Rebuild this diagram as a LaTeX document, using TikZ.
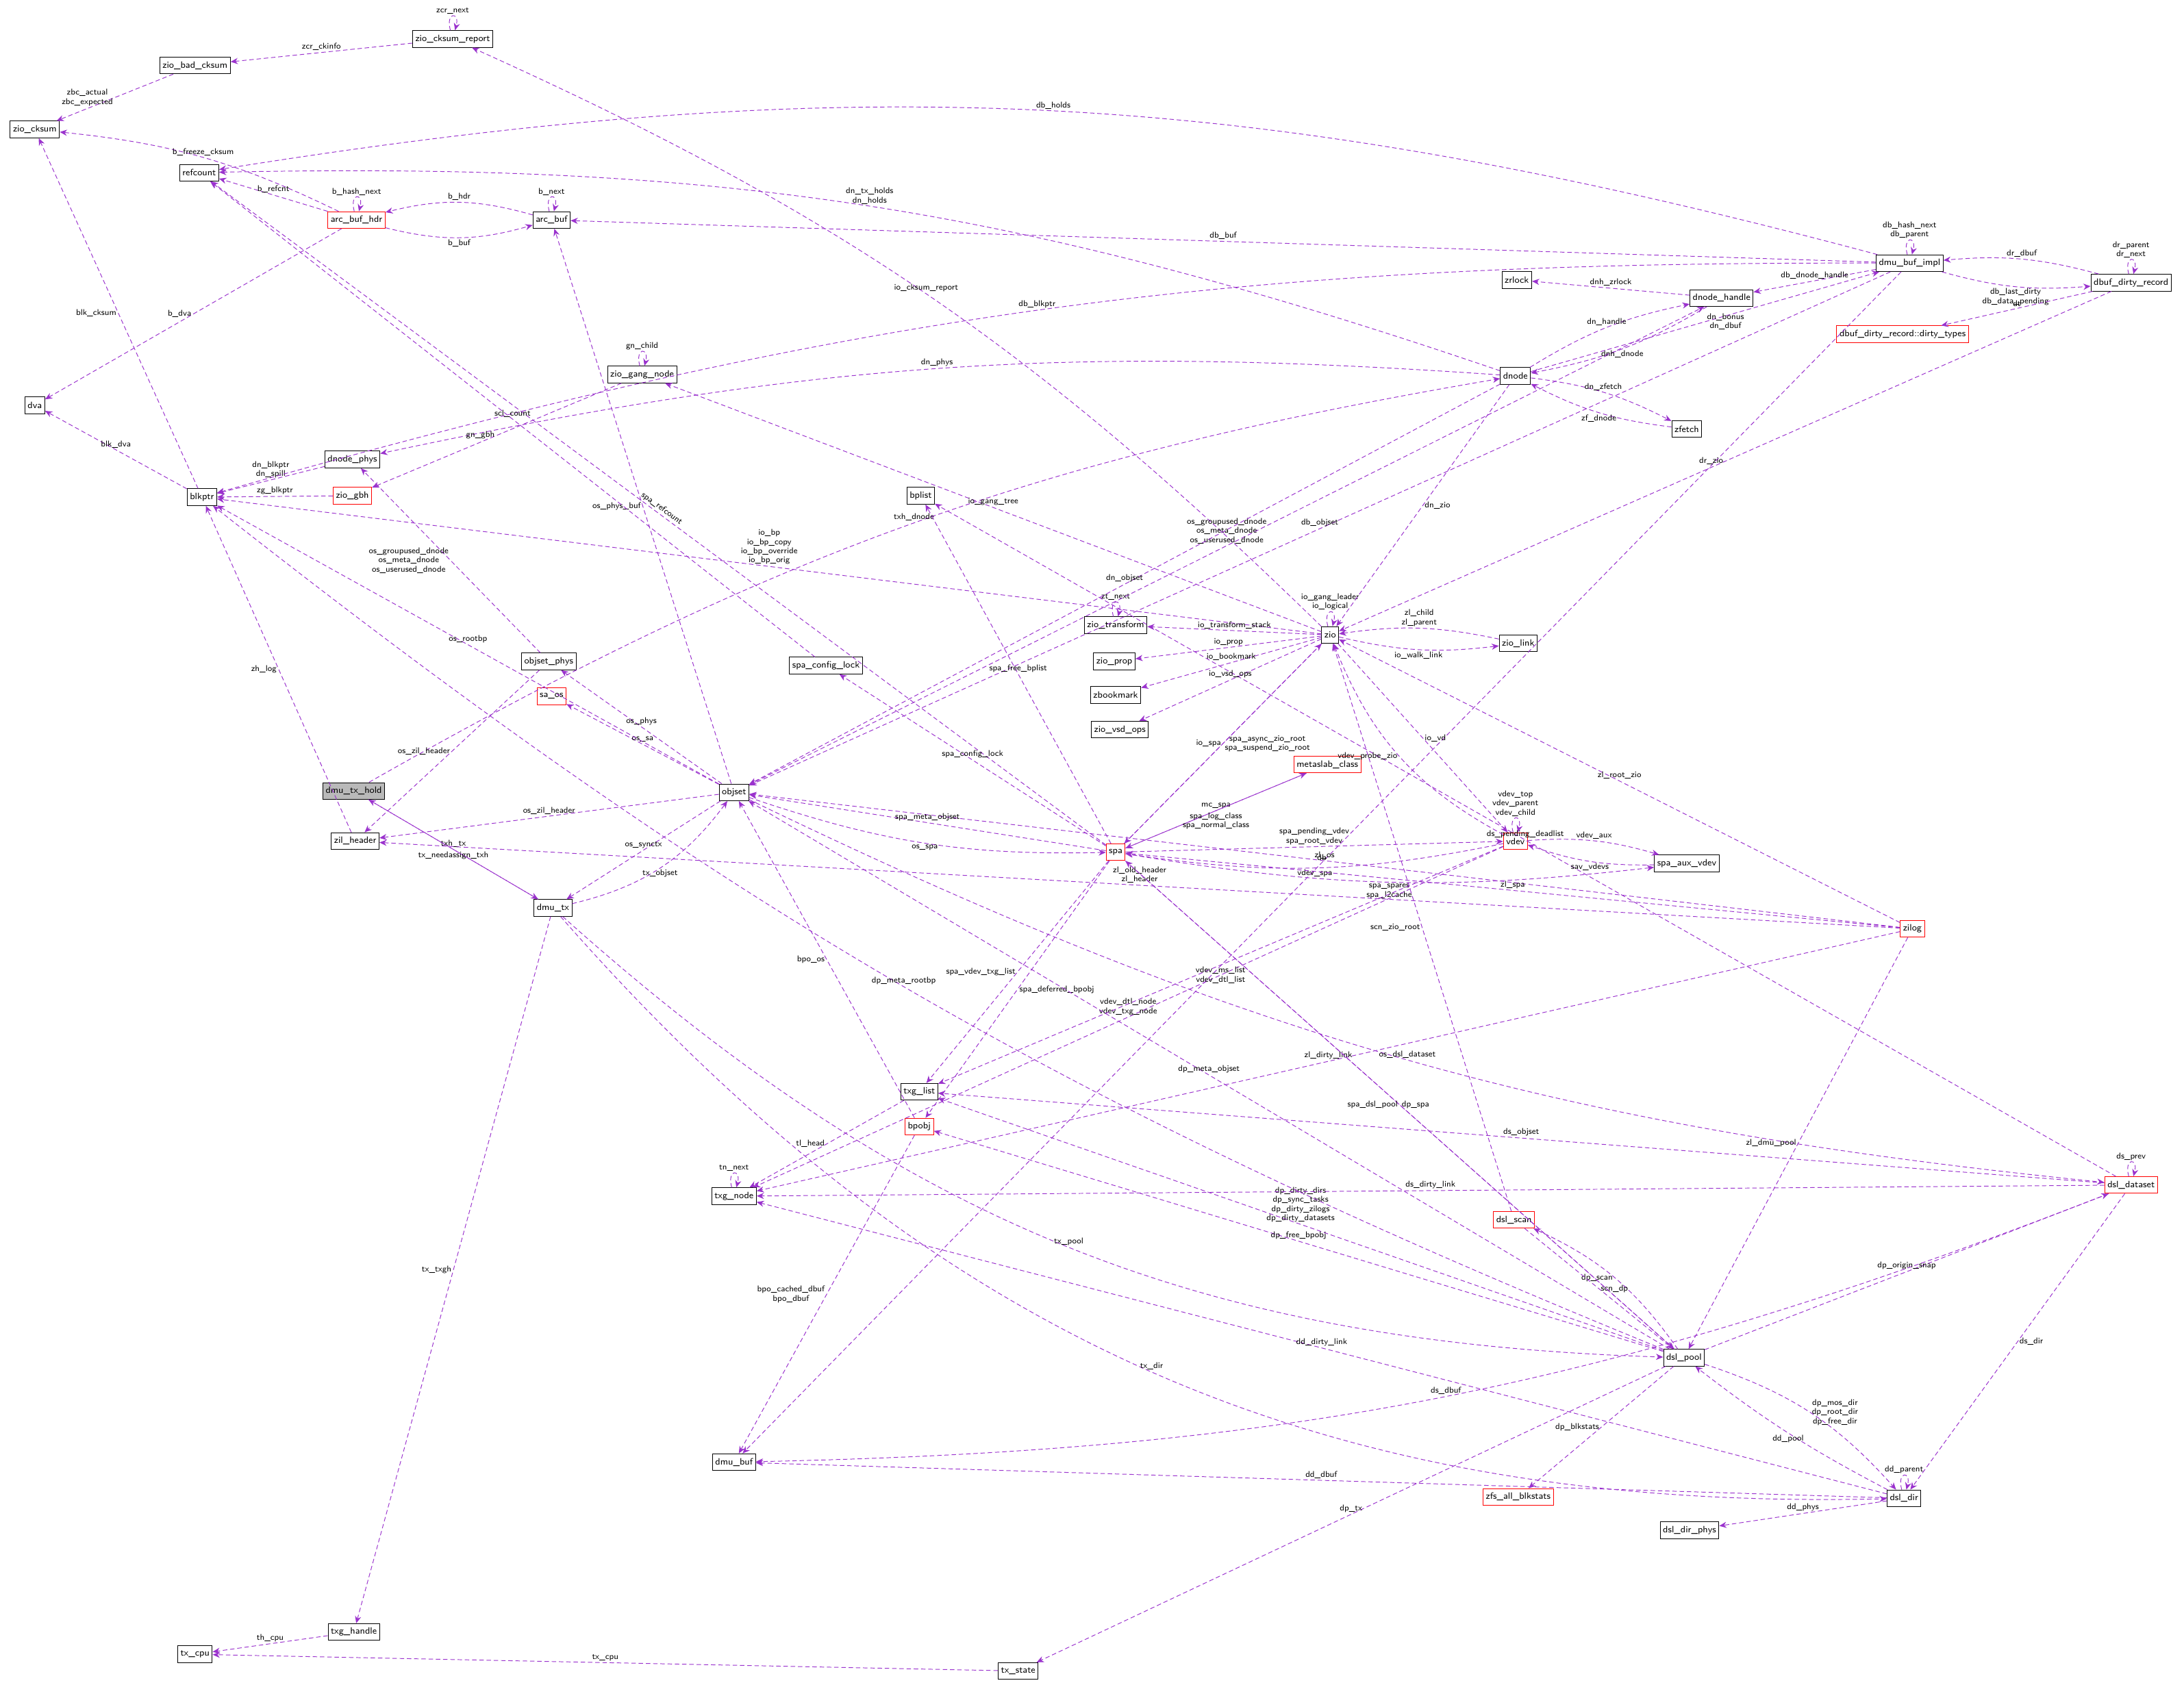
\documentclass[tikz,border=0pt]{standalone}
\usepackage{tikz}
\usetikzlibrary{arrows.meta}
\usetikzlibrary{positioning}
\definecolor{refpurple}{RGB}{154,50,205}
\begin{document}
\begin{tikzpicture}[x=0.25pt,y=-0.25pt,>={Stealth[length=1.3pt,width=1.1pt]},
    cls/.style={rectangle,draw,line width=0.12pt,inner sep=0.5pt,minimum height=3pt,font=\sffamily\fontsize{1.65}{1.8}\selectfont},
    red cls/.style={cls,draw=red},
    edge/.style={->,dash pattern=on 0.8pt off 0.5pt,color=refpurple,line width=0.12pt},
    lbl/.style={font=\sffamily\fontsize{1.5}{1.65}\selectfont,align=center,text=black,inner sep=0.3pt},
    every loop/.style={min distance=3.5pt,looseness=0.5}]
  \useasboundingbox (0,0) rectangle (1568,1210);

  \node[cls] (report) at (325,28) {zio\_cksum\_report};
  \node[cls] (badck) at (140,47) {zio\_bad\_cksum};
  \node[cls] (cksum) at (25,93) {zio\_cksum};
  \node[cls] (refcount) at (143,124) {refcount};
  \node[red cls] (hdr) at (256,158) {arc\_buf\_hdr};
  \node[cls] (arcbuf) at (396,158) {arc\_buf};
  \node[cls] (dva) at (25,291) {dva};
  \node[cls] (blkptr) at (145,357) {blkptr};
  \node[cls] (dnphys) at (253,330) {dnode\_phys};
  \node[red cls] (gbh) at (253,356) {zio\_gbh};
  \node[cls,fill=gray!55] (txhold) at (254,568) {dmu\_tx\_hold};
  \node[cls] (zilhdr) at (255,604) {zil\_header};
  \node[cls] (osphys) at (394,475) {objset\_phys};
  \node[red cls] (saos) at (396,500) {sa\_os};
  \node[cls] (objset) at (527,569) {objset};
  \node[cls] (tx) at (397,652) {dmu\_tx};
  \node[cls] (gang) at (461,269) {zio\_gang\_node};
  \node[cls] (scl) at (593,478) {spa\_config\_lock};
  \node[cls] (ztrans) at (801,449) {zio\_transform};
  \node[cls] (zprop) at (800,475) {zio\_prop};
  \node[cls] (zbm) at (801,499) {zbookmark};
  \node[cls] (vsd) at (804,524) {zio\_vsd\_ops};
  \node[cls] (zio) at (955,456) {zio};
  \node[cls] (zlink) at (1090,462) {zio\_link};
  \node[red cls] (mc) at (953,549) {metaslab\_class};
  \node[red cls] (spa) at (801,612) {spa};
  \node[red cls] (vdev) at (1088,604) {vdev};
  \node[cls] (aux) at (1211,620) {spa\_aux\_vdev};
  \node[red cls] (zilog) at (1373,667) {zilog};
  \node[cls] (bplist) at (661,356) {bplist};
  \node[cls] (txglist) at (660,784) {txg\_list};
  \node[red cls] (bpobj) at (660,809) {bpobj};
  \node[cls] (txgnode) at (527,859) {txg\_node};
  \node[cls] (dmubuf) at (527,1050) {dmu\_buf};
  \node[cls] (txgh) at (254,1172) {txg\_handle};
  \node[cls] (txcpu) at (140,1188) {tx\_cpu};
  \node[cls] (txstate) at (731,1200) {tx\_state};
  \node[cls] (pool) at (1209,975) {dsl\_pool};
  \node[red cls] (scan) at (1087,876) {dsl\_scan};
  \node[red cls] (ds) at (1530,851) {dsl\_dataset};
  \node[cls] (dir) at (1367,1076) {dsl\_dir};
  \node[red cls] (blkstats) at (1090,1075) {zfs\_all\_blkstats};
  \node[cls] (dirphys) at (1213,1099) {dsl\_dir\_phys};
  \node[cls] (dnode) at (1088,270) {dnode};
  \node[cls] (dnh) at (1236,214) {dnode\_handle};
  \node[cls] (zrlock) at (1089,201) {zrlock};
  \node[cls] (zfetch) at (1211,308) {zfetch};
  \node[cls] (dbi) at (1371,189) {dmu\_buf\_impl};
  \node[cls] (ddr) at (1530,203) {dbuf\_dirty\_record};
  \node[red cls] (dtypes) at (1366,240) {dbuf\_dirty\_record::dirty\_types};

  % self references
  \draw[edge] (report) to[loop above] node[lbl,above] {zcr\_next} (report);
  \draw[edge] (hdr) to[loop above] node[lbl,above] {b\_hash\_next} (hdr);
  \draw[edge] (arcbuf) to[loop above] node[lbl,above] {b\_next} (arcbuf);
  \draw[edge] (gang) to[loop above] node[lbl,above] {gn\_child} (gang);
  \draw[edge] (ztrans) to[loop above] node[lbl,above] {zt\_next} (ztrans);
  \draw[edge] (zio) to[loop above] node[lbl,above] {io\_gang\_leader\\io\_logical} (zio);
  \draw[edge] (vdev) to[loop above] node[lbl,above] {vdev\_top\\vdev\_parent\\vdev\_child} (vdev);
  \draw[edge] (txgnode) to[loop above] node[lbl,above] {tn\_next} (txgnode);
  \draw[edge] (ds) to[loop above] node[lbl,above] {ds\_prev} (ds);
  \draw[edge] (dir) to[loop above] node[lbl,above] {dd\_parent} (dir);
  \draw[edge] (dbi) to[loop above] node[lbl,above] {db\_hash\_next\\db\_parent} (dbi);
  \draw[edge] (ddr) to[loop above] node[lbl,above] {dr\_parent\\dr\_next} (ddr);

  % references
  \draw[edge] (report) -- node[lbl,above] {zcr\_ckinfo} (badck);
  \draw[edge] (badck) -- node[lbl,left] {zbc\_actual\\zbc\_expected} (cksum);
  \draw[edge] (hdr) to[bend right=10] node[lbl,above] {b\_freeze\_cksum} (cksum);
  \draw[edge] (hdr) -- node[lbl,above] {b\_refcnt} (refcount);
  \draw[edge] (hdr) to[bend right=15] node[lbl,below] {b\_buf} (arcbuf);
  \draw[edge] (arcbuf) to[bend right=15] node[lbl,above] {b\_hdr} (hdr);
  \draw[edge] (blkptr) -- node[lbl,left] {blk\_cksum} (cksum);
  \draw[edge] (blkptr) -- node[lbl,above] {blk\_dva} (dva);
  \draw[edge] (hdr) -- node[lbl,left] {b\_dva} (dva);
  \draw[edge] (dnphys) -- node[lbl,above] {dn\_blkptr\\dn\_spill} (blkptr);
  \draw[edge] (gbh) -- node[lbl,above] {zg\_blkptr} (blkptr);
  \draw[edge] (zio) to[bend right=10] node[lbl,above] {io\_cksum\_report} (report);
  \draw[edge] (dbi) to[bend right=12] node[lbl,above] {db\_holds} (refcount);
  \draw[edge] (dnode) to[bend right=10] node[lbl,above] {dn\_tx\_holds\\dn\_holds} (refcount);
  \draw[edge] (dbi) to[bend right=8] node[lbl,above] {db\_blkptr} (blkptr);
  \draw[edge] (dbi) -- node[lbl,above] {db\_buf} (arcbuf);
  \draw[edge] (dnode) to[bend right=8] node[lbl,above] {dn\_phys} (dnphys);
  \draw[edge] (dbi) -- node[lbl,above] {db\_objset} (objset);
  \draw[edge] (txhold) to[bend left=10] node[lbl,above] {txh\_dnode} (dnode);
  \draw[edge] (spa) -- node[lbl,above,sloped] {spa\_refcount} (refcount);
  \draw[edge] (objset) -- node[lbl,above] {os\_groupused\_dnode\\os\_meta\_dnode\\os\_userused\_dnode} (dnh);
  \draw[edge] (osphys) -- node[lbl,left] {os\_groupused\_dnode\\os\_meta\_dnode\\os\_userused\_dnode} (dnphys);
  \draw[edge] (gang) -- node[lbl,left] {gn\_gbh} (gbh);
  \draw[edge] (zio) -- node[lbl,above] {io\_gang\_tree} (gang);
  \draw[edge] (dnode) -- node[lbl,above] {dn\_objset} (objset);
  \draw[edge] (objset) -- node[lbl,left] {os\_phys\_buf} (arcbuf);
  \draw[edge] (scl) -- node[lbl,above] {scl\_count} (refcount);
  \draw[edge] (zio) -- node[lbl,above] {io\_bp\\io\_bp\_copy\\io\_bp\_override\\io\_bp\_orig} (blkptr);
  \draw[edge] (dbi) -- node[lbl,above] {db} (dmubuf);
  \draw[edge] (dnode) -- node[lbl,right] {dn\_zio} (zio);
  \draw[edge] (ddr) -- node[lbl,left] {dr\_zio} (zio);
  \draw[edge] (ds) -- node[lbl,above] {ds\_pending\_deadlist} (bplist);
  \draw[edge] (spa) -- node[lbl,above] {spa\_free\_bplist} (bplist);
  \draw[edge] (zilog) -- node[lbl,above] {zl\_os} (objset);
  \draw[edge] (zilog) -- node[lbl,above] {zl\_root\_zio} (zio);
  \draw[edge] (zio) -- node[lbl,above] {io\_transform\_stack} (ztrans);
  \draw[edge] (zio) -- node[lbl,above] {io\_prop} (zprop);
  \draw[edge] (zio) -- node[lbl,above] {io\_bookmark} (zbm);
  \draw[edge] (zio) -- node[lbl,above] {io\_vsd\_ops} (vsd);
  \draw[edge] (zlink) to[bend right=10] node[lbl,above] {zl\_child\\zl\_parent} (zio);
  \draw[edge] (zio) to[bend right=10] node[lbl,below] {io\_walk\_link} (zlink);
  \draw[edge] (objset) -- node[lbl,above] {os\_phys} (osphys);
  \draw[edge] (objset) -- node[lbl,above] {os\_sa} (saos);
  \draw[edge] (objset) -- node[lbl,above] {os\_rootbp} (blkptr);
  \draw[edge] (zilhdr) -- node[lbl,left] {zh\_log} (blkptr);
  \draw[edge] (osphys) -- node[lbl,left] {os\_zil\_header} (zilhdr);
  \draw[edge] (objset) -- node[lbl,above] {os\_zil\_header} (zilhdr);
  \draw[edge] (txhold) -- node[lbl,above] {txh\_tx} (tx);
  \draw[edge] (tx) -- node[lbl,below] {tx\_needassign\_txh} (txhold);
  \draw[edge] (tx) to[bend right=20] node[lbl,below] {tx\_objset} (objset);
  \draw[edge] (objset) -- node[lbl,above] {os\_synctx} (tx);
  \draw[edge] (spa) -- node[lbl,above] {spa\_meta\_objset} (objset);
  \draw[edge] (objset) to[bend right=10] node[lbl,below] {os\_spa} (spa);
  \draw[edge] (spa) -- node[lbl,above] {spa\_config\_lock} (scl);
  \draw[edge] (zio) -- node[lbl,left] {io\_spa} (spa);
  \draw[edge] (spa) -- node[lbl,right] {spa\_async\_zio\_root\\spa\_suspend\_zio\_root} (zio);
  \draw[edge] (mc) -- node[lbl,above] {mc\_spa} (spa);
  \draw[edge] (spa) -- node[lbl,below] {spa\_log\_class\\spa\_normal\_class} (mc);
  \draw[edge] (spa) -- node[lbl,above] {spa\_pending\_vdev\\spa\_root\_vdev} (vdev);
  \draw[edge] (vdev) to[bend left=10] node[lbl,below] {vdev\_spa} (spa);
  \draw[edge] (zio) -- node[lbl,right] {io\_vd} (vdev);
  \draw[edge] (vdev) to[bend left=20] node[lbl,left] {vdev\_probe\_zio} (zio);
  \draw[edge] (vdev) to[bend left=10] node[lbl,above] {vdev\_aux} (aux);
  \draw[edge] (aux) to[bend left=10] node[lbl,below] {sav\_vdevs} (vdev);
  \draw[edge] (spa) to[bend right=8] node[lbl,below] {spa\_spares\\spa\_l2cache} (aux);
  \draw[edge] (zilog) -- node[lbl,above] {zl\_spa} (spa);
  \draw[edge] (spa) -- node[lbl,left] {spa\_vdev\_txg\_list} (txglist);
  \draw[edge] (spa) -- node[lbl,right] {spa\_deferred\_bpobj} (bpobj);
  \draw[edge] (vdev) -- node[lbl,above] {vdev\_dtl\_node\\vdev\_txg\_node} (txgnode);
  \draw[edge] (vdev) -- node[lbl,below] {vdev\_ms\_list\\vdev\_dtl\_list} (txglist);
  \draw[edge] (objset) to[bend right=10] node[lbl,above] {os\_dsl\_dataset} (ds);
  \draw[edge] (ds) -- node[lbl,above] {ds\_objset} (txglist);
  \draw[edge] (bpobj) -- node[lbl,left] {bpo\_os} (objset);
  \draw[edge] (txglist) -- node[lbl,left] {tl\_head} (txgnode);
  \draw[edge] (bpobj) -- node[lbl,left] {bpo\_cached\_dbuf\\bpo\_dbuf} (dmubuf);
  \draw[edge] (zilog) -- node[lbl,above] {zl\_dirty\_link} (txgnode);
  \draw[edge] (zilog) -- node[lbl,above] {zl\_old\_header\\zl\_header} (zilhdr);
  \draw[edge] (zilog) -- node[lbl,left] {zl\_dmu\_pool} (pool);
  \draw[edge] (scan) -- node[lbl,left] {scn\_zio\_root} (zio);
  \draw[edge] (pool) -- node[lbl,right] {dp\_spa} (spa);
  \draw[edge] (pool) to[bend right=15] node[lbl,left] {dp\_scan} (scan);
  \draw[edge] (scan) -- node[lbl,right] {scn\_dp} (pool);
  \draw[edge] (pool) -- node[lbl,above] {dp\_dirty\_dirs\\dp\_sync\_tasks\\dp\_dirty\_zilogs\\dp\_dirty\_datasets} (txglist);
  \draw[edge] (spa) -- node[lbl,left] {spa\_dsl\_pool} (pool);
  \draw[edge] (ds) -- node[lbl,above] {ds\_dirty\_link} (txgnode);
  \draw[edge] (pool) -- node[lbl,above] {dp\_free\_bpobj} (bpobj);
  \draw[edge] (pool) -- node[lbl,above] {dp\_meta\_objset} (objset);
  \draw[edge] (pool) -- node[lbl,above] {dp\_origin\_snap} (ds);
  \draw[edge] (ds) -- node[lbl,right] {ds\_dir} (dir);
  \draw[edge] (pool) to[bend left=15] node[lbl,right] {dp\_mos\_dir\\dp\_root\_dir\\dp\_free\_dir} (dir);
  \draw[edge] (dir) to[bend left=5] node[lbl,below] {dd\_pool} (pool);
  \draw[edge] (dir) -- node[lbl,above] {dd\_dirty\_link} (txgnode);
  \draw[edge] (dir) -- node[lbl,above] {dd\_dbuf} (dmubuf);
  \draw[edge] (ds) to[bend left=10] node[lbl,above] {ds\_dbuf} (dmubuf);
  \draw[edge] (pool) -- node[lbl,left] {dp\_blkstats} (blkstats);
  \draw[edge] (dir) -- node[lbl,above] {dd\_phys} (dirphys);
  \draw[edge] (tx) to[bend right=20] node[lbl,above] {tx\_pool} (pool);
  \draw[edge] (pool) to[bend left=8] node[lbl,above] {dp\_meta\_rootbp} (blkptr);
  \draw[edge] (tx) to[bend right=25] node[lbl,above] {tx\_dir} (dir);
  \draw[edge] (tx) -- node[lbl,left] {tx\_txgh} (txgh);
  \draw[edge] (txgh) -- node[lbl,above] {th\_cpu} (txcpu);
  \draw[edge] (txstate) -- node[lbl,above] {tx\_cpu} (txcpu);
  \draw[edge] (pool) -- node[lbl,above] {dp\_tx} (txstate);
  \draw[edge] (ddr) to[bend right=10] node[lbl,above] {dr\_dbuf} (dbi);
  \draw[edge] (dbi) to[bend right=10] node[lbl,below] {db\_last\_dirty\\db\_data\_pending} (ddr);
  \draw[edge] (ddr) -- node[lbl,above] {dt} (dtypes);
  \draw[edge] (dbi) -- node[lbl,above] {db\_dnode\_handle} (dnh);
  \draw[edge] (dnh) -- node[lbl,above] {dnh\_zrlock} (zrlock);
  \draw[edge] (dnh) to[bend left=10] node[lbl,below] {dnh\_dnode} (dnode);
  \draw[edge] (dnode) to[bend left=10] node[lbl,above] {dn\_handle} (dnh);
  \draw[edge] (dnode) -- node[lbl,right] {dn\_bonus\\dn\_dbuf} (dbi);
  \draw[edge] (dnode) to[bend left=10] node[lbl,above] {dn\_zfetch} (zfetch);
  \draw[edge] (zfetch) to[bend left=10] node[lbl,below] {zf\_dnode} (dnode);
\end{tikzpicture}
\end{document}
